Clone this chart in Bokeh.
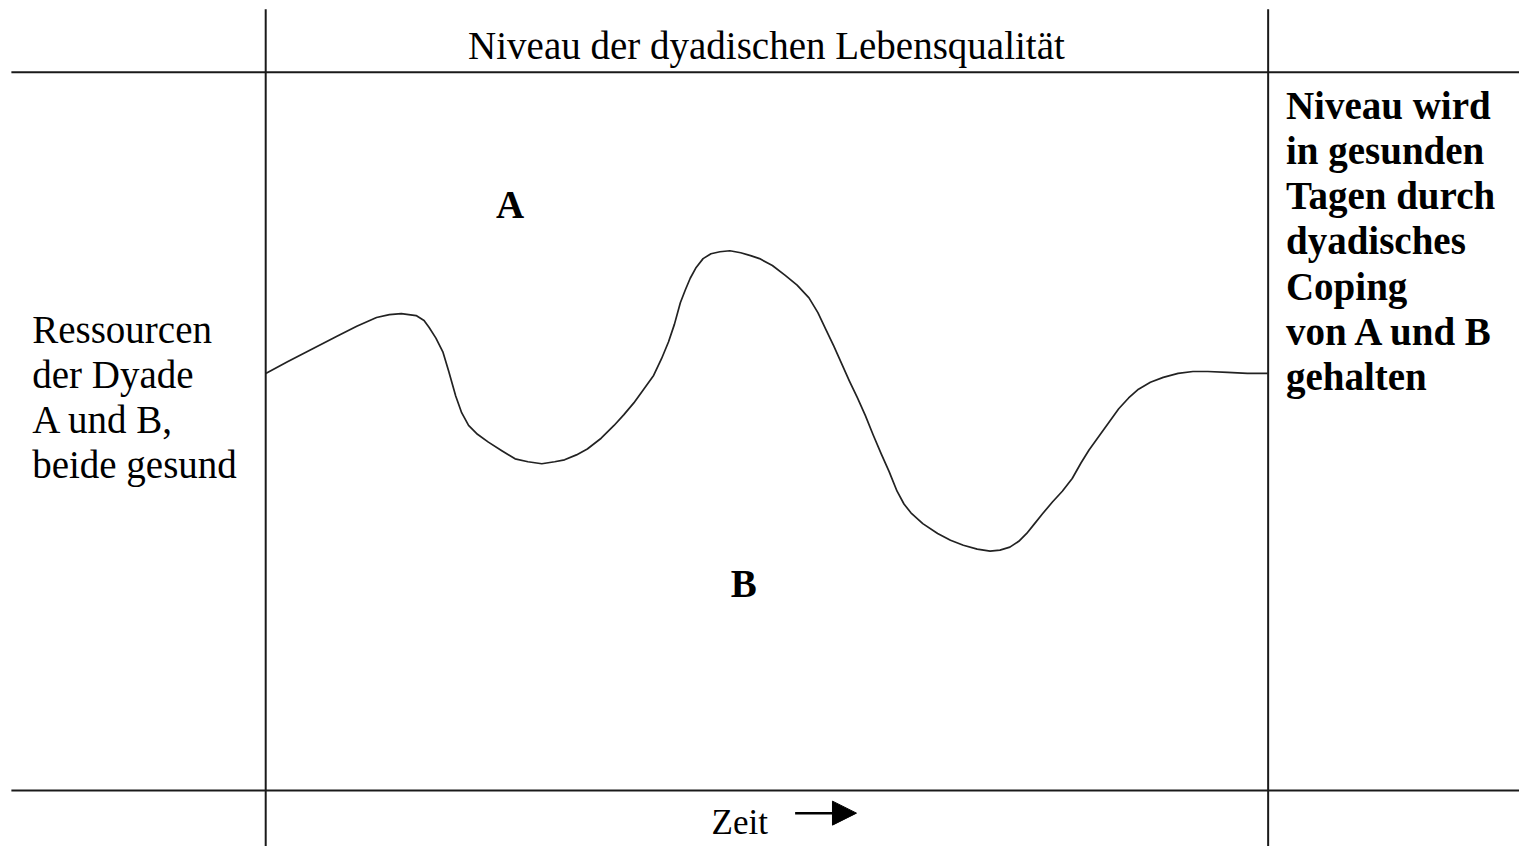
from bokeh.plotting import figure
from bokeh.models import Range1d, Arrow, NormalHead
from bokeh.core.properties import value
from bokeh.embed import file_html
from bokeh.resources import INLINE

# ---- data (coordinates of the diagram space, 1535 x 862 units) ----
curve_x = [268, 290, 315, 340, 360, 380, 393, 405, 420, 428, 433, 440, 447, 453, 460, 466, 473, 482, 493,
           507, 520, 533, 547, 560, 570, 582, 593, 607, 620, 630, 640, 650, 660, 668, 675, 681, 687, 692,
           697, 703, 710, 718, 727, 737, 748, 758, 767, 780, 793, 805, 817, 826, 834, 842, 850, 858, 866,
           874, 882, 890, 898, 906, 913, 920, 932, 947, 960, 973, 987, 1000, 1010, 1020, 1029, 1037, 1045,
           1053, 1063, 1073, 1083, 1092, 1100, 1110, 1120, 1130, 1140, 1150, 1162, 1175, 1190, 1205, 1220,
           1240, 1260, 1281]
curve_y = [380, 368, 355, 342, 332, 323, 320, 319, 321, 326, 333, 344, 358, 378, 403, 420, 433, 442, 450,
           459, 467, 470, 472, 470, 468, 463, 457, 446, 433, 422, 410, 396, 382, 365, 348, 330, 308, 295,
           283, 272, 263, 258, 256, 255, 257, 260, 263, 270, 280, 290, 303, 318, 335, 352, 370, 388, 405,
           423, 443, 462, 480, 500, 513, 522, 533, 543, 550, 555, 559, 561, 560, 557, 551, 543, 533,
           523, 511, 500, 487, 471, 458, 444, 430, 416, 405, 396, 389, 384, 380, 378, 378,
           379, 380, 380]

title_text = "Niveau der dyadischen Lebensqualität"
left_lines = ["Ressourcen", "der Dyade", "A und B,", "beide gesund"]
right_lines = ["Niveau wird", "in gesunden", "Tagen durch", "dyadisches", "Coping", "von A und B", "gehalten"]
area_labels = ["A", "B"]
time_label = "Zeit"

SERIF = value("Liberation Serif")
FS = "39px"

p = figure(width=1519, height=846, output_backend="svg", toolbar_location=None,
           x_range=Range1d(0, 1535), y_range=Range1d(862, 0), min_border=0)
p.axis.visible = False
p.grid.visible = False
p.outline_line_color = None
p.background_fill_color = "white"
p.border_fill_color = "white"

# grid of the diagram
p.segment(x0=[268, 1281, 11, 11], y0=[9, 9, 73, 805], x1=[268, 1281, 1540, 1540], y1=[870, 870, 73, 805],
          line_color="#1a1a1a", line_width=2)

# curve
p.line(curve_x, curve_y, line_color="#222222", line_width=1.7, line_join="round")

# title
p.text(x=[774], y=[46], text=[title_text], text_font=SERIF, text_font_size=FS,
       text_align="center", text_baseline="alphabetic", text_color="black")

# left text
p.text(x=[32] * len(left_lines), y=[335 + 46 * i for i in range(len(left_lines))], text=left_lines,
       text_font=SERIF, text_font_size=FS, text_align="left", text_baseline="alphabetic",
       text_color="black")

# right text (bold)
p.text(x=[1299] * len(right_lines), y=[107 + 46 * i for i in range(len(right_lines))], text=right_lines,
       text_font=SERIF, text_font_size=FS, text_font_style="bold", text_align="left",
       text_baseline="alphabetic", text_color="black")

# A / B labels
p.text(x=[515, 751], y=[208, 594], text=area_labels, text_font=SERIF, text_font_size=FS,
       text_font_style="bold", text_align="center", text_baseline="alphabetic", text_color="black")

# Zeit + arrow
p.text(x=[747], y=[838], text=[time_label], text_font=SERIF, text_font_size="35px",
       text_align="center", text_baseline="alphabetic", text_color="black")
p.add_layout(Arrow(end=NormalHead(size=24, fill_color="black", line_color="black"),
                   x_start=803, y_start=828, x_end=865, y_end=828, line_width=2.5, line_color="black"))

open("out.html", "w").write(file_html(p, INLINE))
